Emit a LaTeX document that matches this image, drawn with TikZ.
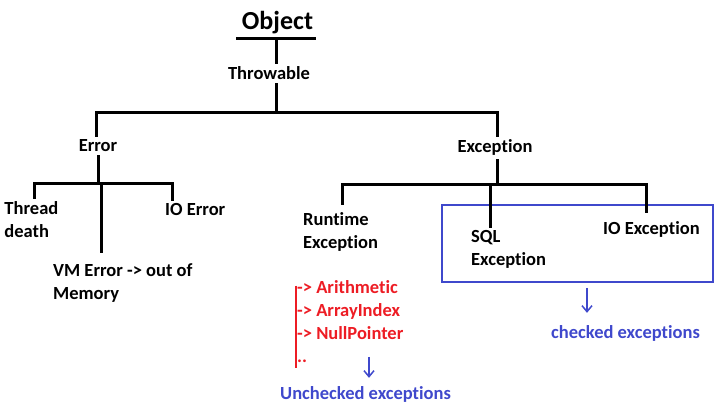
\documentclass[tikz,border=0pt]{standalone}
\usepackage{fontspec}
\setmainfont{Carlito}[Ligatures={TeX,NoCommon}]
\usetikzlibrary{arrows.meta,positioning,calc}
\definecolor{paintBlue}{RGB}{63,72,204}
\definecolor{paintRed}{RGB}{237,28,36}

\begin{document}
\begin{tikzpicture}[x=1pt, y=-1pt,
  cls/.style={font=\bfseries\fontsize{18.5}{23}\selectfont, inner sep=3pt, align=left},
  tree/.style={line width=3pt},
  blbox/.style={draw=paintBlue, line width=2pt, minimum width=271pt, minimum height=77pt},
  blarr/.style={-{Straight Barb[length=6pt,width=10pt]}, line width=1.5pt, paintBlue},
  redbar/.style={line width=2pt, paintRed}
]
  \useasboundingbox (0,0) rectangle (724,411);

  \node[cls, font=\bfseries\fontsize{26}{30}\selectfont, anchor=base] (obj) at (277.5,30) {Object};
  \node[cls, anchor=base]      (thr) at (269,80)  {Throwable};
  \node[cls, anchor=base]      (err) at (98,152)  {Error};
  \node[cls, anchor=base]      (exc) at (495,153) {Exception};
  \node[cls, anchor=base west] (thd) at (1.3,238) {Thread\\death};
  \node[cls, anchor=base west] (ioe) at (162,216) {IO Error};
  \node[cls, anchor=base west] (vme) at (50,300)  {VM Error -> out of\\Memory};
  \node[cls, anchor=base west] (rte) at (300,249) {Runtime\\Exception};
  \node[cls, anchor=base west] (sql) at (468,266) {SQL\\Exception};
  \node[cls, anchor=base west] (iox) at (600,235) {IO Exception};
  \node[cls, anchor=base west, text=paintRed] (lst) at (294,362.7)
    {-> Arithmetic\\-> ArrayIndex\\-> NullPointer\\..};
  \node[blbox] (chkbox) at (577.5,243.5) {};
  \node[cls, anchor=base west, text=paintBlue] (unchk) at (277,400) {Unchecked exceptions};
  \node[cls, anchor=base west, text=paintBlue] (chk)   at (548,339) {checked exceptions};

  \coordinate (objL) at (236,39);
  \coordinate (objM) at (276,39);
  \coordinate (objR) at (316,39);
  \draw[tree] (objL) -- (objR);
  \draw[tree] (objM) -- (objM |- thr.north);

  \coordinate (thrL) at (96,113);
  \coordinate (thrM) at (276,113);
  \coordinate (thrR) at (497,113);
  \draw[tree] (thr.south -| thrM) -- (thrM);
  \draw[tree] (thrL |- err.north) -- (thrL) -- (thrR) -- (thrR |- exc.north);

  \coordinate (errL) at (34,184);
  \coordinate (errM) at (101,184);
  \coordinate (errR) at (172,184);
  \draw[tree] (err) -- (err |- errM);
  \draw[tree] (errL |- thd.north) -- (errL) -- (errR) -- (errR |- ioe.north);
  \draw[tree, shorten >=8pt] (errM) -- (errM |- vme.north);

  \coordinate (excL) at (342,185);
  \coordinate (excM) at (490,185);
  \coordinate (excR) at (646,185);
  \draw[tree] (exc.south -| thrR) -- (thrR |- excM);
  \draw[tree, shorten <=5pt, shorten >=6pt] (excL |- rte.north) -- (excL) -- (excR) -- (excR |- iox.north);
  \draw[tree] (excM) -- (excM |- sql.north);

  \draw[redbar, shorten <=8pt, shorten >=-2pt] ([xshift=2pt]lst.north west) -- ([xshift=2pt]lst.south west);

  \coordinate (chkA) at (587,287);
  \coordinate (unA) at (369,357);
  \draw[blarr, shorten <=5pt, shorten >=10pt] (chkbox.south -| chkA) -- (chkA |- chk.north);
  \draw[blarr, shorten >=6pt] (unA) -- (unA |- unchk.north);
\end{tikzpicture}
\end{document}
